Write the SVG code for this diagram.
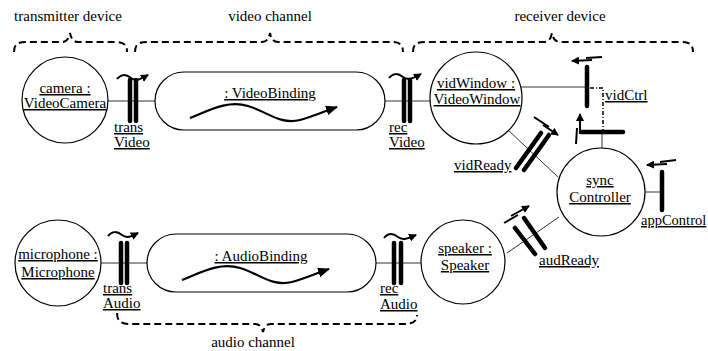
<svg xmlns="http://www.w3.org/2000/svg" width="708" height="351" viewBox="0 0 708 351">
<style>
text{font-family:"Liberation Serif","Times New Roman",serif;font-size:15px;fill:#000}
.u{text-decoration:underline}
.m{text-anchor:middle}
.node{fill:#fff;stroke:#000;stroke-width:1.2}
.conn{stroke:#333;stroke-width:1;fill:none}
.bar{stroke:#000;stroke-width:4.5;stroke-linecap:round;fill:none}
.brace{fill:none;stroke:#000;stroke-width:2;stroke-dasharray:7 4}
.arr{fill:none;stroke:#000;stroke-width:2}
.wave{fill:none;stroke:#000;stroke-width:2.2}
.dd{fill:none;stroke:#000;stroke-width:1.5;stroke-dasharray:4 2 1 2}
</style>
<defs>
<marker id="ah" markerWidth="8" markerHeight="8" refX="7" refY="4" orient="auto" markerUnits="userSpaceOnUse">
<path d="M0,0 L8,4 L0,8 Z" fill="#000"/>
</marker>
<marker id="ahb" markerWidth="12" markerHeight="10" refX="11" refY="5" orient="auto" markerUnits="userSpaceOnUse">
<path d="M0,0 L12,5 L0,10 Z" fill="#000"/>
</marker>
</defs>

<g id="braces">
<path class="brace" d="M14,52 C14,44 18,42 26,42 L62,42 C67,42 69,38 70,33 C71,38 73,42 78,42 L115,42 C123,42 127,44 127,52"/>
<path class="brace" d="M135,52 C135,44 139,42 147,42 L262,42 C267,42 269,38 270,33 C271,38 273,42 278,42 L391,42 C399,42 403,44 403,52"/>
<path class="brace" d="M413,52 C413,44 417,42 425,42 L544,42 C549,42 551,38 552,33 C553,38 555,42 560,42 L681,42 C689,42 693,44 693,52"/>
<path class="brace" d="M117,313 C117,321 121,324 129,324 L255,324 C260,324 262,328 263,332 C264,328 266,324 271,324 L405,324 C413,324 417,321 417,315"/>
<text class="m" x="68" y="21">transmitter device</text>
<text class="m" x="270" y="21">video channel</text>
<text class="m" x="560" y="21">receiver device</text>
<text class="m" x="253" y="347">audio channel</text>
</g>

<g id="connectors">
<line class="conn" x1="108" y1="101" x2="155" y2="101"/>
<line class="conn" x1="385" y1="101" x2="431" y2="101"/>
<line class="conn" x1="521" y1="87" x2="587" y2="87"/>
<line class="conn" x1="602" y1="132" x2="602" y2="148"/>
<line class="conn" x1="645" y1="192" x2="662" y2="192"/>
<line class="conn" x1="508" y1="130" x2="558" y2="177"/>
<line class="conn" x1="507" y1="253" x2="559" y2="217"/>
<line class="conn" x1="101" y1="263" x2="147" y2="263"/>
<line class="conn" x1="376" y1="263" x2="421" y2="263"/>
<path class="dd" d="M590,88 L603,88 L603,132"/>
</g>

<g id="camera">
<circle class="node" cx="65" cy="100" r="43"/>
<text class="m u" x="65" y="93">camera :</text>
<text class="m u" x="65" y="108">VideoCamera</text>
</g>

<g id="transVideo">
<line class="bar" x1="130" y1="80" x2="130" y2="121"/>
<line class="bar" x1="136" y1="80" x2="136" y2="121"/>
<path class="arr" marker-end="url(#ah)" d="M117,79 C121,74 126,74 131,78 C136,82 141,79 148,75"/>
<text class="u" x="114" y="132">trans</text>
<text class="u" x="114" y="147">Video</text>
</g>

<g id="videoBinding">
<rect class="node" x="155" y="72" width="230" height="58" rx="29"/>
<text class="m u" x="270" y="98">: VideoBinding</text>
<path class="wave" marker-end="url(#ahb)" d="M190,118 C210,110 228,100 248,106 C268,112 280,125 300,120 C315,116 325,111 337,107"/>
</g>

<g id="recVideo">
<line class="bar" x1="404" y1="80" x2="404" y2="121"/>
<line class="bar" x1="410" y1="80" x2="410" y2="121"/>
<path class="arr" marker-end="url(#ah)" d="M389,78 C393,73 398,73 403,77 C408,81 414,78 421,74"/>
<text class="u" x="389" y="132">rec</text>
<text class="u" x="389" y="147">Video</text>
</g>

<g id="vidWindow">
<circle class="node" cx="476" cy="98" r="46"/>
<text class="m u" x="476" y="88">vidWindow :</text>
<text class="m u" x="477" y="104">VideoWindow</text>
</g>

<g id="vidCtrl">
<line class="bar" x1="587" y1="67" x2="587" y2="106"/>
<path class="arr" marker-end="url(#ah)" d="M592,60 L572,61"/>
<path class="arr" d="M586,58 L602,57"/>
<text class="u" x="605" y="100">vidCtrl</text>
</g>

<g id="ctrlPort">
<line class="bar" x1="581" y1="132" x2="623" y2="132"/>
<path class="arr" marker-end="url(#ah)" d="M580,134 L580,114"/>
<path class="arr" d="M577,128 L576,144"/>
</g>

<g id="vidReady">
<line class="bar" x1="516" y1="168" x2="541" y2="133"/>
<line class="bar" x1="524" y1="170" x2="549" y2="135"/>
<path class="arr" marker-end="url(#ah)" d="M543,125 L558,135"/>
<path class="arr" d="M534,117 L549,127"/>
<text class="u" x="454" y="170">vidReady</text>
</g>

<g id="syncController">
<circle class="node" cx="601" cy="192" r="44"/>
<text class="m u" x="600" y="185">sync</text>
<text class="m u" x="600" y="202">Controller</text>
</g>

<g id="appControl">
<line class="bar" x1="662" y1="172" x2="662" y2="210"/>
<path class="arr" marker-end="url(#ah)" d="M667,164 L647,165"/>
<path class="arr" d="M660,162 L676,160"/>
<text class="u" x="641" y="225" style="font-size:14.5px">appControl</text>
</g>

<g id="audReady">
<line class="bar" x1="515" y1="228" x2="535" y2="254"/>
<line class="bar" x1="524" y1="218" x2="545" y2="248"/>
<path class="arr" marker-end="url(#ah)" d="M511,216 L529,206"/>
<path class="arr" d="M504,223 L518,215"/>
<text class="u" x="539" y="265">audReady</text>
</g>

<g id="speaker">
<circle class="node" cx="463" cy="262" r="42"/>
<text class="m u" x="465" y="253">speaker :</text>
<text class="m u" x="465" y="270">Speaker</text>
</g>

<g id="microphone">
<circle class="node" cx="58" cy="263" r="43"/>
<text class="m u" x="58" y="259">microphone :</text>
<text class="m u" x="58" y="277">Microphone</text>
</g>

<g id="transAudio">
<line class="bar" x1="121" y1="243" x2="121" y2="283"/>
<line class="bar" x1="127" y1="243" x2="127" y2="283"/>
<path class="arr" marker-end="url(#ah)" d="M108,236 C112,231 117,231 122,235 C127,239 132,236 138,233"/>
<text class="u" x="103" y="293">trans</text>
<text class="u" x="103" y="308">Audio</text>
</g>

<g id="audioBinding">
<rect class="node" x="147" y="234" width="229" height="58" rx="29"/>
<text class="m u" x="261" y="261">: AudioBinding</text>
<path class="wave" marker-end="url(#ahb)" d="M182,280 C202,272 220,262 240,268 C260,274 272,287 292,282 C307,278 317,273 329,269"/>
</g>

<g id="recAudio">
<line class="bar" x1="394" y1="243" x2="394" y2="283"/>
<line class="bar" x1="401" y1="243" x2="401" y2="283"/>
<path class="arr" marker-end="url(#ah)" d="M384,238 C388,233 393,233 398,237 C403,241 409,238 416,235"/>
<text class="u" x="380" y="293">rec</text>
<text class="u" x="380" y="309">Audio</text>
</g>
</svg>
